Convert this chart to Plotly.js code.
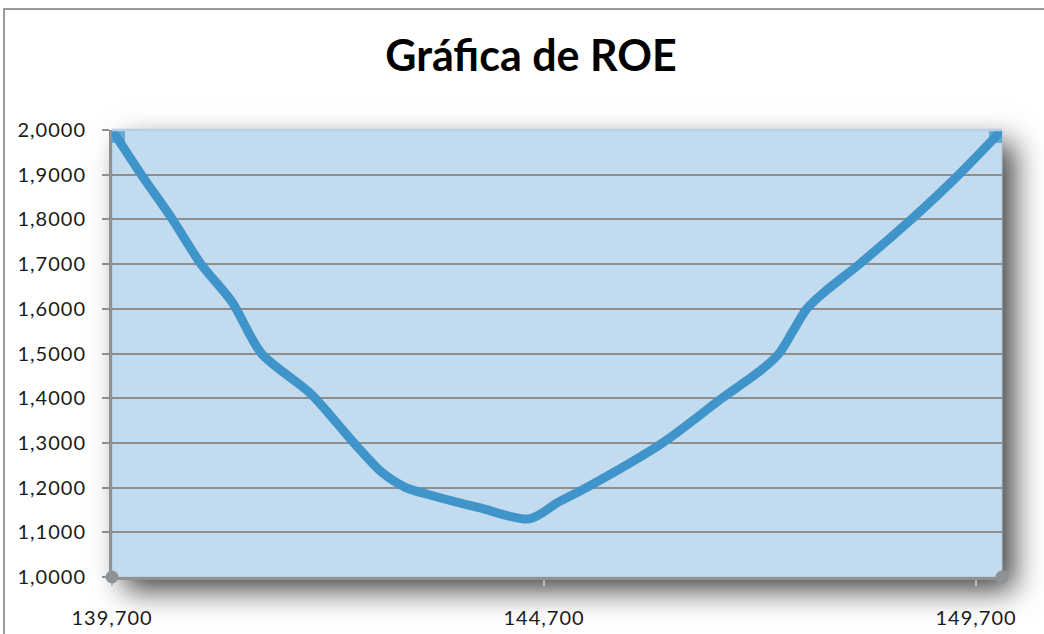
<!DOCTYPE html>
<html>
<head>
<meta charset="utf-8">
<script src="https://cdn.plot.ly/plotly-3.0.1.min.js"></script>
<style>
  html, body { margin: 0; padding: 0; background: #ffffff; }
  #wrap { position: relative; width: 1044px; height: 634px; overflow: hidden; }
  #shadow { position: absolute; background: #c3dbee; }
  #chart { position: absolute; left: 0; top: 0; width: 1044px; height: 634px; }
  .ytick text, .xtick text { letter-spacing: 1px; }
</style>
</head>
<body>
<div id="wrap">
  <div id="shadow"></div>
  <div id="chart"></div>
</div>
<script>
// ---- data ----
const xVals = [139700, 140040, 140400, 140730, 141090, 141430, 142000, 142500, 142830, 143100,
               143370, 143950, 144530, 144870, 145190, 146070, 146760, 147220, 147420, 147580,
               147740, 147960, 148350, 148950, 149500, 150000];
const roeVals = [2.000, 1.900, 1.800, 1.700, 1.615, 1.500, 1.410, 1.300, 1.233, 1.200,
                 1.184, 1.155, 1.130, 1.168, 1.200, 1.300, 1.400, 1.464, 1.500, 1.550,
                 1.600, 1.640, 1.700, 1.800, 1.900, 2.000];
const xTickVals = [139700, 144700, 149700];
const xTickLabels = ['139,700', '144,700', '149,700'];
const yTickVals = [1.0, 1.1, 1.2, 1.3, 1.4, 1.5, 1.6, 1.7, 1.8, 1.9, 2.0];
const yTickLabels = ['1,0000', '1,1000', '1,2000', '1,3000', '1,4000', '1,5000',
                     '1,6000', '1,7000', '1,8000', '1,9000', '2,0000'];
const chartTitle = 'Gráfica de ROE';

// ---- layout geometry ----
const W = 1044, H = 634;
const M = { l: 112, r: 42, t: 130, b: 57 };
const pw = W - M.l - M.r, ph = H - M.t - M.b;
const px2x = px => (px - M.l) / pw;
const py2y = py => (H - M.b - py) / ph;

// soft drop shadow behind the plot area
const sh = document.getElementById('shadow');
sh.style.left = M.l + 'px';
sh.style.top = M.t + 'px';
sh.style.width = pw + 'px';
sh.style.height = ph + 'px';
sh.style.boxShadow = '12px 13px 28px rgba(0,0,0,0.75)';

const shapes = [];
// plot background
shapes.push({
  type: 'rect', xref: 'paper', yref: 'paper', layer: 'below',
  x0: 0, x1: 1, y0: 0, y1: 1,
  fillcolor: '#c3dbee', line: { color: '#aac6de', width: 1 }
});
// outer chart border
shapes.push({
  type: 'rect', xref: 'paper', yref: 'paper', layer: 'below',
  x0: px2x(4), x1: px2x(W + 30), y0: py2y(H + 30), y1: py2y(9),
  fillcolor: 'rgba(0,0,0,0)', line: { color: '#9a9a9a', width: 2 }
});
// light top border of the plot area
shapes.push({
  type: 'line', xref: 'paper', yref: 'paper', layer: 'above',
  x0: 0, x1: 1, y0: 1, y1: 1,
  line: { color: '#b7cfe3', width: 2.5 }
});
// round axis end caps
[0, 1].forEach(xa => {
  shapes.push({
    type: 'circle', xref: 'paper', yref: 'paper', layer: 'above',
    xsizemode: 'pixel', ysizemode: 'pixel', xanchor: xa, yanchor: 0,
    x0: -6.5, x1: 6.5, y0: -6.5, y1: 6.5,
    fillcolor: '#8f9295', line: { width: 0 }
  });
});

const markerSizes = xVals.map((v, i) => (i === 0 || i === xVals.length - 1) ? 26 : 0);

const trace = {
  type: 'scatter', mode: 'lines+markers',
  x: xVals, y: roeVals,
  line: { color: '#3f94ca', width: 9, shape: 'spline', smoothing: 0.8 },
  marker: { symbol: 'square', size: markerSizes, color: '#3f94ca', line: { width: 0 } },
  cliponaxis: true, hoverinfo: 'skip', showlegend: false
};

const layout = {
  width: W, height: H,
  margin: M,
  paper_bgcolor: 'rgba(0,0,0,0)',
  plot_bgcolor: 'rgba(0,0,0,0)',
  showlegend: false,
  title: {
    text: '<b>' + chartTitle + '</b>',
    x: 531 / W, xanchor: 'center', xref: 'container',
    y: 1 - 56 / H, yanchor: 'middle', yref: 'container',
    font: { family: 'Lato, "Open Sans", sans-serif', size: 43, color: '#000000' }
  },
  xaxis: {
    range: [xVals[0], xVals[xVals.length - 1]],
    tickvals: xTickVals, ticktext: xTickLabels,
    showgrid: false, zeroline: false,
    showline: true, linecolor: '#8f9295', linewidth: 3,
    ticks: 'outside', ticklen: 6, tickwidth: 2, tickcolor: '#b8bcc0',
    ticklabelstandoff: 15,
    tickfont: { family: 'Lato, "Open Sans", sans-serif', size: 20, color: '#1a1a1a' },
    fixedrange: true
  },
  yaxis: {
    range: [1.0, 2.0],
    tickvals: yTickVals, ticktext: yTickLabels,
    showgrid: true, gridcolor: '#8e8e8e', gridwidth: 2,
    zeroline: false,
    showline: true, linecolor: '#8f9295', linewidth: 3,
    ticks: 'outside', ticklen: 7, tickwidth: 2, tickcolor: '#8e8e8e',
    ticklabelstandoff: 12,
    tickfont: { family: 'Lato, "Open Sans", sans-serif', size: 20, color: '#1a1a1a' },
    fixedrange: true
  },
  shapes: shapes
};

Plotly.newPlot('chart', [trace], layout, { staticPlot: true, displayModeBar: false });
</script>
</body>
</html>
